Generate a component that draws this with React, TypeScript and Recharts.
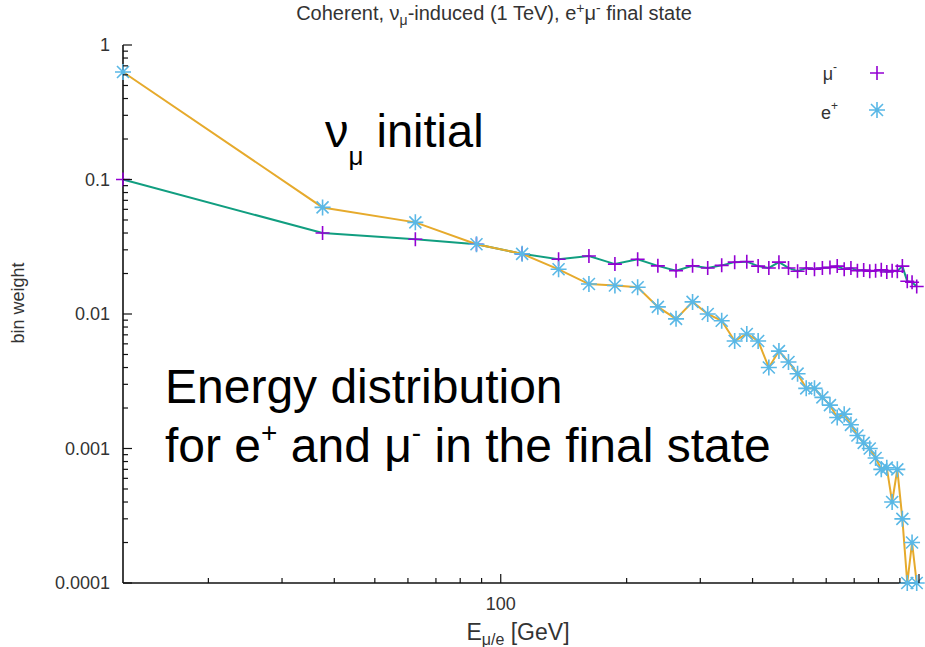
import React from "react";
import { ComposedChart, Line, XAxis, YAxis } from "recharts";

// bin centres, GeV
const energies = [
  12.5, 37.5, 62.5, 87.5, 112.5, 137.5, 162.5, 187.5, 212.5, 237.5,
  262.5, 287.5, 312.5, 337.5, 362.5, 387.5, 412.5, 437.5, 462.5, 487.5,
  512.5, 537.5, 562.5, 587.5, 612.5, 637.5, 662.5, 687.5, 712.5, 737.5,
  762.5, 787.5, 812.5, 837.5, 862.5, 887.5, 912.5, 937.5, 962.5, 987.5,
];

// mu- bin weights
const muMinus = [
  0.1, 0.04, 0.036, 0.033, 0.028, 0.0255, 0.027, 0.0235, 0.0255, 0.0228,
  0.021, 0.0228, 0.022, 0.023, 0.0243, 0.0245, 0.0227, 0.022, 0.0243, 0.022,
  0.0208, 0.022, 0.0215, 0.022, 0.0222, 0.0227, 0.0215, 0.022, 0.021, 0.0212,
  0.0208, 0.021, 0.0213, 0.0205, 0.021, 0.0208, 0.0227, 0.0175, 0.0172, 0.016,
];

// e+ bin weights
const ePlus = [
  0.63, 0.062, 0.048, 0.033, 0.028, 0.0215, 0.0167, 0.0163, 0.0158, 0.0113,
  0.0092, 0.0123, 0.01, 0.0089, 0.0063, 0.0071, 0.0063, 0.004, 0.0053, 0.0044,
  0.0036, 0.0028, 0.0028, 0.0024, 0.0021, 0.0017, 0.0018, 0.0015, 0.00125, 0.0011,
  0.001, 0.00085, 0.0007, 0.00072, 0.0004, 0.0007, 0.0003, 0.0001, 0.0002, 0.0001,
];

const xTicks = [20, 30, 40, 50, 60, 70, 80, 90, 100, 200, 300, 400, 500, 600, 700, 800, 900, 1000];
const xLabelled = [100];
const yMajor = [0.0001, 0.001, 0.01, 0.1, 1];
const yMajorLabels = ["0.0001", "0.001", "0.01", "0.1", "1"];
const yTicks = yMajor.slice(0, 4).flatMap((d) => [1, 2, 3, 4, 5, 6, 7, 8, 9].map((m) => m * d)).concat([1]);

const rows = energies.map((e, i) => ({ e, mu: muMinus[i], ep: ePlus[i] }));

const FONT = '"Liberation Sans", Arial, sans-serif';
const MU_PT = "#9400d3";
const MU_LINE = "#119e80";
const E_PT = "#5ab8e6";
const E_LINE = "#e6aa2c";

const isMajor = (v: number) => Math.abs(Math.log10(v) - Math.round(Math.log10(v))) < 1e-6;

const BottomTick = (p: any) => {
  const { x, y, payload } = p;
  const len = isMajor(payload.value) ? 9 : 5;
  return (
    <g>
      <line x1={x} y1={y} x2={x} y2={y - len} stroke="#111" strokeWidth={1.2} />
      {xLabelled.includes(payload.value) && (
        <text x={x} y={y + 27} textAnchor="middle" fontSize={18} fill="#333" fontFamily={FONT}>
          {payload.value}
        </text>
      )}
    </g>
  );
};

const TopTick = (p: any) => {
  const { x, y, payload } = p;
  const len = isMajor(payload.value) ? 9 : 5;
  return <line x1={x} y1={y} x2={x} y2={y + len} stroke="#111" strokeWidth={1.2} />;
};

const LeftTick = (p: any) => {
  const { x, y, payload } = p;
  const v = payload.value;
  const idx = yMajor.findIndex((m) => Math.abs(m - v) / m < 1e-6);
  const len = idx >= 0 ? 9 : 5;
  return (
    <g>
      <line x1={x} y1={y} x2={x + len} y2={y} stroke="#111" strokeWidth={1.2} />
      {idx >= 0 && (
        <text x={x - 13} y={y + 6} textAnchor="end" fontSize={18} fill="#333" fontFamily={FONT}>
          {yMajorLabels[idx]}
        </text>
      )}
    </g>
  );
};

const RightTick = (p: any) => {
  const { x, y, payload } = p;
  const len = isMajor(payload.value) ? 9 : 5;
  return <line x1={x} y1={y} x2={x - len} y2={y} stroke="#111" strokeWidth={1.2} />;
};

const crossPath = (cx: number, cy: number) => `M${cx - 7},${cy}H${cx + 7}M${cx},${cy - 7}V${cy + 7}`;
const starPath = (cx: number, cy: number) =>
  `M${cx - 8},${cy}H${cx + 8}M${cx},${cy - 8}V${cy + 8}M${cx - 6},${cy - 6}L${cx + 6},${cy + 6}M${cx - 6},${cy + 6}L${cx + 6},${cy - 6}`;

const renderCross = (p: any) => {
  const { cx, cy, index } = p;
  if (cx == null || cy == null) return <g key={`mc${index}`} />;
  return <path key={`mc${index}`} d={crossPath(cx, cy)} stroke={MU_PT} strokeWidth={1.6} fill="none" />;
};

const renderStar = (p: any) => {
  const { cx, cy, index } = p;
  if (cx == null || cy == null) return <g key={`es${index}`} />;
  return <path key={`es${index}`} d={starPath(cx, cy)} stroke={E_PT} strokeWidth={1.6} fill="none" />;
};

const axisLine = { stroke: "#111", strokeWidth: 1.6 };

export default function App() {
  return (
    <div style={{ position: "absolute", left: 0, top: 0, width: 925, height: 647, background: "#fff", fontFamily: FONT }}>
      <ComposedChart width={925} height={647} data={rows} margin={{ top: 45, right: 6, bottom: 0, left: 0 }}>
        <XAxis
          xAxisId="b"
          dataKey="e"
          type="number"
          scale="log"
          domain={[12.5, 1000]}
          ticks={xTicks}
          interval={0}
          height={64}
          tickSize={0}
          tickMargin={0}
          tickLine={false}
          axisLine={axisLine}
          tick={(p: any) => <BottomTick {...p} />}
        />
        <XAxis
          xAxisId="t"
          orientation="top"
          type="number"
          scale="log"
          domain={[12.5, 1000]}
          allowDataOverflow
          ticks={xTicks}
          interval={0}
          height={0}
          tickSize={0}
          tickMargin={0}
          tickLine={false}
          axisLine={axisLine}
          tick={(p: any) => <TopTick {...p} />}
        />
        <YAxis
          yAxisId="l"
          type="number"
          scale="log"
          domain={[0.0001, 1]}
          ticks={yTicks}
          interval={0}
          width={123}
          tickSize={0}
          tickMargin={0}
          tickLine={false}
          axisLine={axisLine}
          tick={(p: any) => <LeftTick {...p} />}
        />
        <YAxis
          yAxisId="r"
          orientation="right"
          type="number"
          scale="log"
          domain={[0.0001, 1]}
          allowDataOverflow
          ticks={yTicks}
          interval={0}
          width={0}
          tickSize={0}
          tickMargin={0}
          tickLine={false}
          axisLine={axisLine}
          tick={(p: any) => <RightTick {...p} />}
        />
        <Line xAxisId="b" yAxisId="l" dataKey="mu" stroke="none" dot={renderCross} activeDot={false} isAnimationActive={false} />
        <Line xAxisId="b" yAxisId="l" dataKey="ep" stroke="none" dot={renderStar} activeDot={false} isAnimationActive={false} />
        <Line xAxisId="b" yAxisId="l" dataKey="mu" type="linear" stroke={MU_LINE} strokeWidth={2} dot={false} activeDot={false} isAnimationActive={false} />
        <Line xAxisId="b" yAxisId="l" dataKey="ep" type="linear" stroke={E_LINE} strokeWidth={2} dot={false} activeDot={false} isAnimationActive={false} />
      </ComposedChart>

      <svg width={925} height={647} style={{ position: "absolute", left: 0, top: 0, pointerEvents: "none" }} fontFamily={FONT}>
        <text x={494} y={20} textAnchor="middle" fontSize={20} fill="#333">
          Coherent, ν<tspan fontSize={14} dy={5}>μ</tspan>
          <tspan dy={-5}>-induced (1 TeV), e</tspan>
          <tspan fontSize={14} dy={-7}>+</tspan>
          <tspan dy={7}>μ</tspan>
          <tspan fontSize={14} dy={-7}>-</tspan>
          <tspan dy={7}> final state</tspan>
        </text>

        <text transform="translate(24,303) rotate(-90)" textAnchor="middle" fontSize={18} fill="#333">
          bin weight
        </text>

        <text x={518} y={640} textAnchor="middle" fontSize={23} fill="#333">
          E<tspan fontSize={16} dy={5}>μ/e</tspan>
          <tspan dy={-5}> [GeV]</tspan>
        </text>

        {/* legend */}
        <text x={837} y={80} textAnchor="end" fontSize={18} fill="#333">
          μ<tspan fontSize={12} dy={-9}>-</tspan>
        </text>
        <path d={crossPath(877, 73)} stroke={MU_PT} strokeWidth={1.6} fill="none" />
        <text x={838} y={119} textAnchor="end" fontSize={18} fill="#333">
          e<tspan fontSize={12} dy={-9}>+</tspan>
        </text>
        <path d={starPath(877, 110)} stroke={E_PT} strokeWidth={1.6} fill="none" />

        {/* annotations */}
        <text x={325} y={147} fontSize={47} fill="#000">
          ν<tspan fontSize={26} dy={18}>μ</tspan>
          <tspan dy={-18}> initial</tspan>
        </text>
        <text x={165} y={403} fontSize={48} fill="#000">
          Energy distribution
        </text>
        <text x={165} y={462} fontSize={48} fill="#000">
          for e<tspan fontSize={28} dy={-20}>+</tspan>
          <tspan dy={20}> and μ</tspan>
          <tspan fontSize={28} dy={-20}>-</tspan>
          <tspan dy={20}> in the final state</tspan>
        </text>
      </svg>
    </div>
  );
}
